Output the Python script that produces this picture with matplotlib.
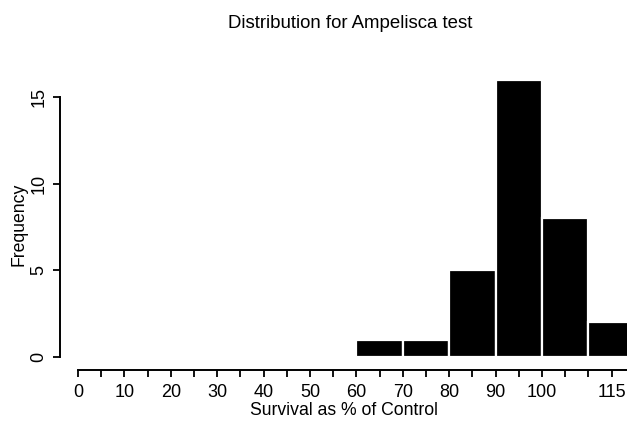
import matplotlib
matplotlib.use("Agg")
import matplotlib.pyplot as plt

plt.rcParams['font.family'] = ['Liberation Sans', 'DejaVu Sans']

bin_left = [60, 70, 80, 90, 100, 110]
counts = [1, 1, 5, 16, 8, 2]
bin_width = 10
x_ticks = list(range(0, 120, 5))
x_labels = [str(t) if (t % 10 == 0 and t <= 100) or t == 115 else "" for t in x_ticks]
y_ticks = [0, 5, 10, 15]

fig = plt.figure(figsize=(6.27, 4.26), dpi=100)
ax = fig.add_axes([60/627, 1 - 370/426, 1 - 60/627, (370 - 78)/426])

ax.bar(bin_left, counts, width=bin_width, align='edge', color='black',
       edgecolor='white', linewidth=1.6)

ax.set_xlim(-3.9, 118.3)
ax.set_ylim(-0.75, 16.1)

for s in ['top', 'right']:
    ax.spines[s].set_visible(False)
ax.spines['left'].set_bounds(0, 15)
ax.spines['bottom'].set_bounds(0, 118.3)
ax.spines['left'].set_linewidth(1.4)
ax.spines['bottom'].set_linewidth(1.4)

ax.set_xticks(x_ticks)
ax.set_xticklabels(x_labels, fontsize=13)
ax.set_yticks(y_ticks)
ax.set_yticklabels([str(t) for t in y_ticks], fontsize=13, rotation=90, va='center')
ax.tick_params(direction='out', length=5, width=1.3)
ax.tick_params(axis='x', pad=5)
ax.tick_params(axis='y', pad=4)

ax.set_xlabel("Survival as % of Control", fontsize=12.7, labelpad=1)
ax.set_ylabel("Frequency", fontsize=12.7, labelpad=2)

fig.text(350/627, 1 - 24/426, "Distribution for Ampelisca test", ha='center', va='center', fontsize=13.4)

fig.savefig("out.png", dpi=100)
